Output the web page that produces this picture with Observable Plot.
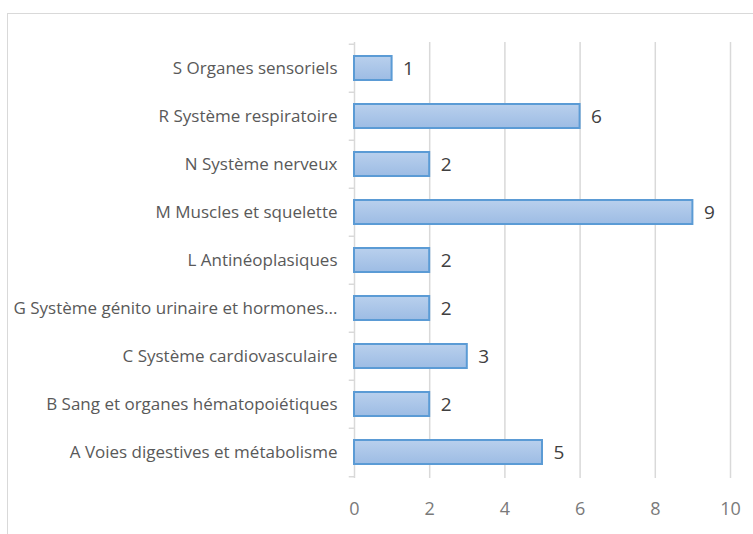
<!DOCTYPE html>
<html>
<head>
<meta charset="utf-8">
<script src="https://cdn.jsdelivr.net/npm/d3@7"></script>
<script src="https://cdn.jsdelivr.net/npm/@observablehq/plot@0.6"></script>
<style>
  html, body { margin: 0; padding: 0; background: #fff; }
  #wrap { position: relative; width: 753px; height: 534px; overflow: hidden; }
  #frame { position: absolute; left: 7px; top: 13px; width: 800px; height: 600px; border: 1px solid #d9d9d9; box-sizing: border-box; }
  #chart { position: absolute; left: 0; top: 0; }
</style>
</head>
<body>
<div id="wrap"><div id="frame"></div><div id="chart"></div></div>
<script>
const categories = [
  "S Organes sensoriels",
  "R Système respiratoire",
  "N Système nerveux",
  "M Muscles et squelette",
  "L Antinéoplasiques",
  "G Système génito urinaire et hormones...",
  "C Système cardiovasculaire",
  "B Sang et organes hématopoiétiques",
  "A Voies digestives et métabolisme"
];
const values = [1, 6, 2, 9, 2, 2, 3, 2, 5];
const xTicks = [0, 2, 4, 6, 8, 10];

const data = categories.map((c, i) => ({cat: c, value: values[i]}));
const font = "'Open Sans', 'Noto Sans', sans-serif";
const half = 436 / 9 / 2;

const plot = Plot.plot({
  width: 753,
  height: 534,
  marginLeft: 354,
  marginRight: 23,
  marginTop: 42,
  marginBottom: 56,
  style: {fontFamily: font, fontSize: "17px", color: "#595959", background: "transparent"},
  x: {domain: [0, 10], ticks: xTicks, grid: false, label: null},
  y: {domain: categories, paddingInner: 0.5, paddingOuter: 0.25, label: null},
  marks: [
    Plot.ruleX(xTicks.filter(d => d > 0), {stroke: "#d9d9d9", strokeWidth: 1.5}),
    Plot.ruleX([0], {stroke: "#d9d9d9", strokeWidth: 1.5}),
    Plot.ruleY(categories, {y: d => d, x1: -0.14, x2: 0, dy: -half, stroke: "#d9d9d9", strokeWidth: 1.5}),
    Plot.ruleY([categories[categories.length - 1]], {y: d => d, x1: -0.14, x2: 0, dy: half, stroke: "#d9d9d9", strokeWidth: 1.5}),
    () => {
      const svgNS = "http://www.w3.org/2000/svg";
      const defs = document.createElementNS(svgNS, "defs");
      defs.innerHTML = `<linearGradient id="barGrad" x1="0" y1="0" x2="0" y2="1">
        <stop offset="0" stop-color="#b9d0ed"/>
        <stop offset="1" stop-color="#9dbce4"/>
      </linearGradient>`;
      return defs;
    },
    Plot.barX(data, {x: "value", y: "cat", fill: "url(#barGrad)", stroke: "#5b9bd5", strokeWidth: 2}),
    Plot.text(data, {x: "value", y: "cat", text: d => String(d.value), dx: 11, textAnchor: "start", fill: "#404040", fontSize: 19}),
    Plot.axisX({ticks: xTicks, tickSize: 0, tickPadding: 24, fill: "#7a7a7a", fontSize: 18, label: null}),
    Plot.axisY({tickSize: 0, tickPadding: 17, fill: "#595959", fontSize: 17, label: null})
  ]
});
document.getElementById("chart").appendChild(plot);
</script>
</body>
</html>
